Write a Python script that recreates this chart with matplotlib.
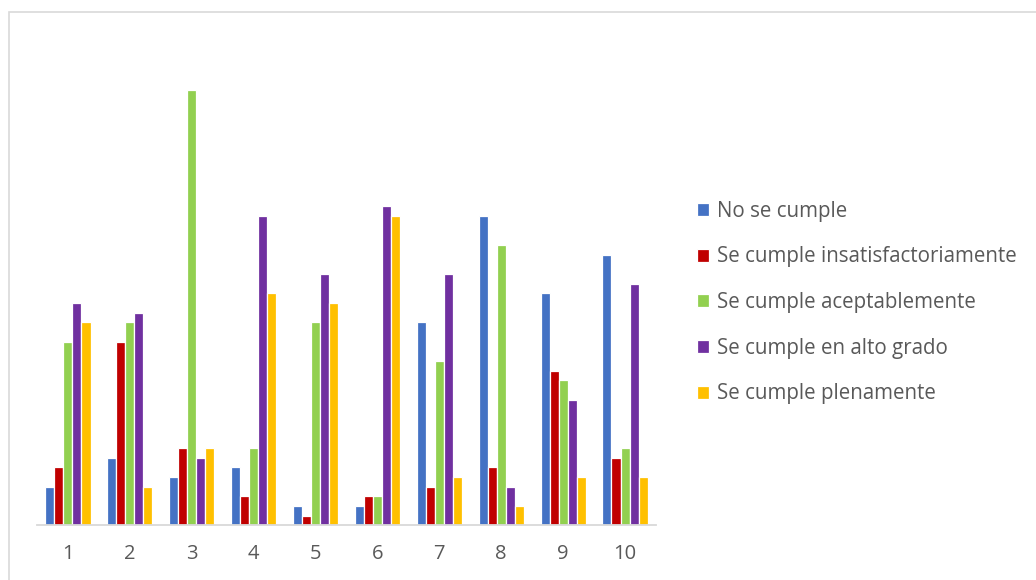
import numpy as np
import matplotlib
matplotlib.use("Agg")
import matplotlib.pyplot as plt
from matplotlib.patches import Rectangle

categories = ["1", "2", "3", "4", "5", "6", "7", "8", "9", "10"]
series_names = [
    "No se cumple",
    "Se cumple insatisfactoriamente",
    "Se cumple aceptablemente",
    "Se cumple en alto grado",
    "Se cumple plenamente",
]
no_se_cumple = [4, 7, 5, 6, 2, 2, 21, 32, 24, 28]
insatisfactoriamente = [6, 19, 8, 3, 1, 3, 4, 6, 16, 7]
aceptablemente = [19, 21, 45, 8, 21, 3, 17, 29, 15, 8]
alto_grado = [23, 22, 7, 32, 26, 33, 26, 4, 13, 25]
plenamente = [21, 4, 8, 24, 23, 32, 5, 2, 5, 5]

series_values = [no_se_cumple, insatisfactoriamente, aceptablemente, alto_grado, plenamente]
colors = ["#4472C4", "#C00000", "#92D050", "#7030A0", "#FFC000"]

plt.rcParams["font.family"] = ["Open Sans", "DejaVu Sans"]
text_color = "#595959"

fig = plt.figure(figsize=(10.36, 5.8), dpi=100)
ax = fig.add_axes([0.0357, 0.094, 0.5975, 0.8336])

x = np.arange(len(categories))
slot = 0.146
for i, (name, vals, col) in enumerate(zip(series_names, series_values, colors)):
    offs = (i - 2) * slot
    ax.bar(x + offs, vals, width=slot, color=col, edgecolor="white",
           linewidth=0.9, label=name, zorder=2)

ax.set_xlim(-0.5, len(categories) - 0.5)
ax.set_ylim(0, 50)
ax.set_yticks([])
ax.set_xticks(x)
ax.set_xticklabels(categories, fontsize=14.5, color=text_color)
ax.tick_params(axis="x", length=0, pad=13)
for side in ["top", "right", "left"]:
    ax.spines[side].set_visible(False)
ax.spines["bottom"].set_color("#d9d9d9")
ax.spines["bottom"].set_linewidth(1.3)
ax.spines["bottom"].set_zorder(3)

leg = fig.legend(loc="upper left", bbox_to_anchor=(0.665, 0.668), frameon=False,
                 fontsize=14.8, labelcolor=text_color, handlelength=0.6,
                 handleheight=0.6, handletextpad=0.35, labelspacing=1.2,
                 borderaxespad=0)

# outer chart frame
fig.patches.append(Rectangle((9 / 1036, -0.05), 1.1, (580 - 12) / 580 + 0.05,
                             transform=fig.transFigure, fill=False,
                             edgecolor="#d9d9d9", linewidth=1.2))

fig.savefig("out.png", dpi=100, facecolor="white")
